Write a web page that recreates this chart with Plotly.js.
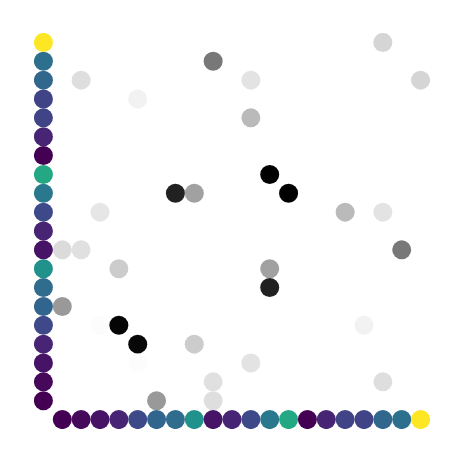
<!DOCTYPE html>
<html>
<head>
<meta charset="utf-8">
<script src="https://cdn.plot.ly/plotly-3.0.1.min.js"></script>
<style>html,body{margin:0;padding:0;background:#fff;}#chart{width:463px;height:463px;}</style>
</head>
<body>
<div id="chart"></div>
<script>
// Marginal values (shared by left column and bottom row), index 0..19
const nodeIndex = [0,1,2,3,4,5,6,7,8,9,10,11,12,13,14,15,16,17,18,19];
const nodeValues = [0.0,0.02,0.05,0.1,0.22,0.32,0.35,0.5,0.05,0.1,0.22,0.4,0.6,0.0,0.1,0.2,0.2,0.33,0.37,1.0];

// Interior cells: column index, row index, intensity
const cellX = [17,8,1,10,19,4,10,11,6,7,12,2,15,17,0,1,18,3,11,11,0,2,3,16,4,7,4,10,8,17,5,8];
const cellY = [19,18,17,17,17,16,15,12,11,11,11,10,10,10,8,8,8,7,7,6,5,4,4,4,3,3,2,2,1,1,0,0];
const cellValues = [0.165,0.53,0.13,0.11,0.165,0.05,0.27,1.0,0.87,0.37,1.0,0.1,0.27,0.11,0.14,0.12,0.53,0.2,0.37,0.87,0.4,0.012,0.98,0.05,0.97,0.2,0.01,0.11,0.12,0.13,0.4,0.13];

const msize = 19;
const leftX = nodeIndex.map(() => -1);
const bottomY = nodeIndex.map(() => -1);

const traces = [
  {
    type: 'scatter', mode: 'markers', x: cellX, y: cellY,
    marker: {size: msize, color: cellValues, colorscale: [[0,'#ffffff'],[1,'#000000']], cmin: 0, cmax: 1, line: {width: 0}},
    hoverinfo: 'skip', showlegend: false
  },
  {
    type: 'scatter', mode: 'markers', x: leftX, y: nodeIndex,
    marker: {size: msize, color: nodeValues, colorscale: 'Viridis', cmin: 0, cmax: 1, line: {width: 0}},
    hoverinfo: 'skip', showlegend: false
  },
  {
    type: 'scatter', mode: 'markers', x: nodeIndex, y: bottomY,
    marker: {size: msize, color: nodeValues, colorscale: 'Viridis', cmin: 0, cmax: 1, line: {width: 0}},
    hoverinfo: 'skip', showlegend: false
  }
];

const ax = {range: [-1.5, 19.5], visible: false, showgrid: false, zeroline: false, fixedrange: true};
const layout = {
  width: 463, height: 463,
  margin: {l: 34, r: 33, t: 33, b: 34},
  paper_bgcolor: '#ffffff', plot_bgcolor: '#ffffff',
  xaxis: Object.assign({}, ax),
  yaxis: Object.assign({}, ax),
  showlegend: false
};
Plotly.newPlot('chart', traces, layout, {staticPlot: true, displayModeBar: false});
</script>
</body>
</html>
